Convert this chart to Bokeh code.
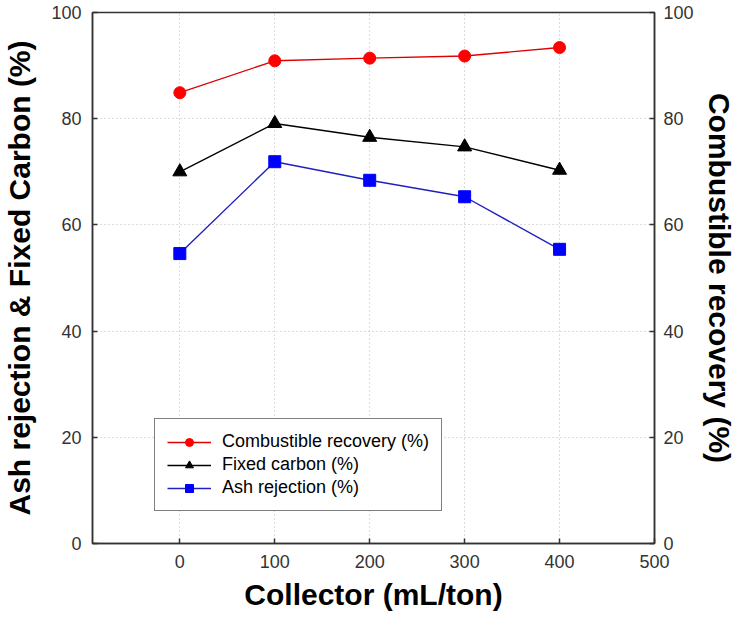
from bokeh.plotting import figure
from bokeh.models import Range1d, LinearAxis, FixedTicker, Legend, LegendItem
from bokeh.embed import file_html
from bokeh.resources import INLINE

# ---- data ----
collector = [0, 100, 200, 300, 400]
combustible_recovery = [84.9, 90.9, 91.4, 91.8, 93.4]
fixed_carbon = [70.0, 79.1, 76.5, 74.7, 70.3]
ash_rejection = [54.6, 71.9, 68.4, 65.3, 55.4]

x_ticks = [0, 100, 200, 300, 400, 500]
y_ticks = [0, 20, 40, 60, 80, 100]

TICK_FONT = "Liberation Sans"
TITLE_FONT = "Liberation Sans"

p = figure(width=738, height=613, output_backend="svg", toolbar_location=None,
           x_range=Range1d(-92, 500), y_range=Range1d(0, 100),
           min_border_left=91, min_border_right=83, min_border_top=12, min_border_bottom=70)
p.extra_y_ranges = {"right": Range1d(0, 100)}

p.background_fill_color = "white"
p.border_fill_color = "white"
p.outline_line_color = "#333333"
p.outline_line_width = 1.5

# axes
right_axis = LinearAxis(y_range_name="right")
p.add_layout(right_axis, "right")

for ax in [p.xaxis[0], p.yaxis[0], right_axis]:
    ax.axis_line_color = "#333333"
    ax.axis_line_width = 1.5
    ax.major_tick_line_color = "#333333"
    ax.major_tick_line_width = 1.5
    ax.major_tick_in = 5
    ax.major_tick_out = 0
    ax.minor_tick_line_color = None
    ax.major_label_text_font = TICK_FONT
    ax.major_label_text_font_size = "18px"
    ax.major_label_text_color = "#333333"
    ax.axis_label_text_font = TITLE_FONT
    ax.axis_label_text_font_style = "bold"
    ax.axis_label_text_font_size = "30px"
    ax.axis_label_text_color = "black"

p.xaxis[0].ticker = FixedTicker(ticks=x_ticks)
p.yaxis[0].ticker = FixedTicker(ticks=y_ticks)
right_axis.ticker = FixedTicker(ticks=y_ticks)

p.xaxis[0].axis_label = "Collector (mL/ton)"
p.yaxis[0].axis_label = "Ash rejection & Fixed Carbon (%)"
right_axis.axis_label = "Combustible recovery (%)"

p.xaxis[0].major_label_standoff = 11
p.xaxis[0].axis_label_standoff = 7
p.yaxis[0].major_label_standoff = 11
p.yaxis[0].axis_label_standoff = 12
right_axis.major_label_standoff = 9
right_axis.axis_label_standoff = 6

# grid
p.xgrid.ticker = FixedTicker(ticks=x_ticks)
p.ygrid.ticker = FixedTicker(ticks=y_ticks)
for g in [p.xgrid[0], p.ygrid[0]]:
    g.grid_line_color = "#b8b8b8"
    g.grid_line_dash = "1 3"
    g.grid_line_width = 1

# series
r_line = p.line(collector, combustible_recovery, line_color="#e00000", line_width=1.4, y_range_name="right")
r_pts = p.scatter(collector, combustible_recovery, marker="circle", size=12,
                  fill_color="#ff0000", line_color="#ff0000", y_range_name="right")
k_line = p.line(collector, fixed_carbon, line_color="black", line_width=1.4)
k_pts = p.scatter(collector, fixed_carbon, marker="triangle", size=14,
                  fill_color="black", line_color="black")
b_line = p.line(collector, ash_rejection, line_color="#2020c0", line_width=1.4)
b_pts = p.scatter(collector, ash_rejection, marker="square", size=12,
                  fill_color="#0000ff", line_color="#0000ff")

legend = Legend(items=[
    LegendItem(label="Combustible recovery (%)", renderers=[r_line, r_pts]),
    LegendItem(label="Fixed carbon (%)", renderers=[k_line, k_pts]),
    LegendItem(label="Ash rejection (%)", renderers=[b_line, b_pts]),
], location=(62, 32))
legend.border_line_color = "black"
legend.border_line_width = 1.5
legend.background_fill_color = "white"
legend.background_fill_alpha = 1.0
legend.label_text_font = TICK_FONT
legend.label_text_font_size = "18px"
legend.label_text_color = "black"
legend.glyph_width = 44
legend.glyph_height = 20
legend.label_standoff = 11
legend.label_height = 20
legend.spacing = 2
legend.padding = 12
legend.margin = 0
p.add_layout(legend, "center")

open("out.html", "w").write(file_html(p, INLINE))
